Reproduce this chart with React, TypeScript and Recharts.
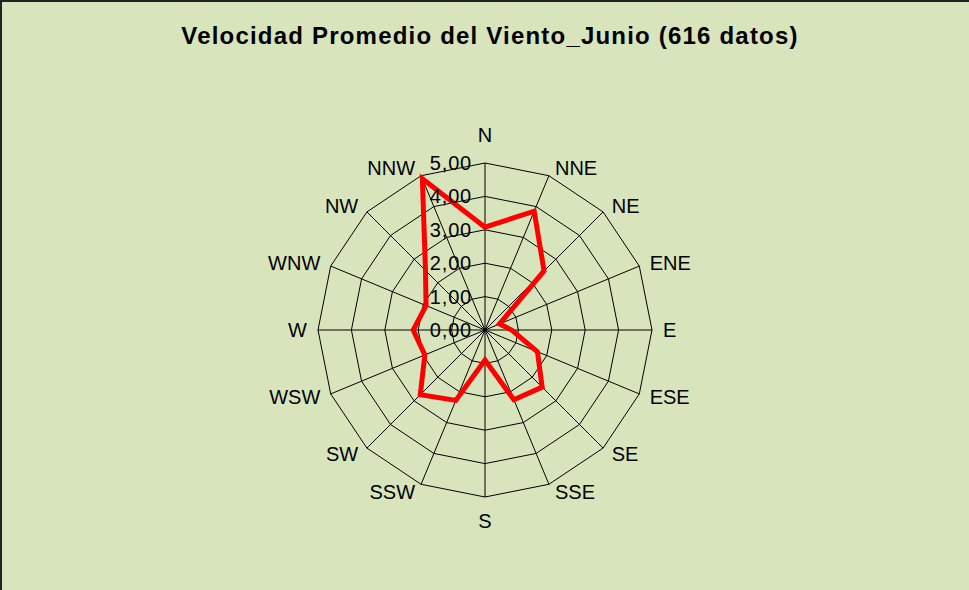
import { RadarChart, Radar, PolarGrid, PolarAngleAxis, PolarRadiusAxis } from 'recharts'

const directions = ['N', 'NNE', 'NE', 'ENE', 'E', 'ESE', 'SE', 'SSE', 'S', 'SSW', 'SW', 'WSW', 'W', 'WNW', 'NW', 'NNW']
const speeds = [3.08, 3.85, 2.5, 0.47, 0.8, 1.7, 2.42, 2.26, 0.9, 2.28, 2.74, 1.95, 2.15, 1.91, 2.52, 4.9]
const radiusTicks = [0, 1, 2, 3, 4, 5]

const chartData = directions.map((dir, i) => ({ dir, value: speeds[i] }))

const FONT = '"Liberation Sans", Arial, sans-serif'

const fmt = (v: number) => v.toFixed(2).replace('.', ',')

function AngleTick(props: any) {
  const { x, y, payload, textAnchor } = props
  let dx = 0
  let dy = 0
  if (textAnchor === 'middle') {
    dy = y < 330 ? -20 : 16
  } else {
    dx = textAnchor === 'start' ? 3 : -3
  }
  return (
    <text
      x={x + dx}
      y={y + dy}
      textAnchor={textAnchor}
      dominantBaseline="central"
      fontSize={20}
      fontFamily={FONT}
      fill="#000"
    >
      {payload.value}
    </text>
  )
}

function RadiusTick(props: any) {
  const { x, y, payload } = props
  return (
    <text
      x={x - 13}
      y={y}
      textAnchor="end"
      dominantBaseline="central"
      fontSize={20}
      letterSpacing={0.8}
      fontFamily={FONT}
      fill="#000"
    >
      {fmt(payload.value)}
    </text>
  )
}

export default function App() {
  return (
    <div
      style={{
        position: 'absolute',
        left: 0,
        top: 0,
        width: 969,
        height: 590,
        background: '#D8E4BC',
        borderTop: '2px solid #222',
        borderLeft: '2px solid #222',
        boxSizing: 'border-box',
        overflow: 'hidden',
      }}
    >
      <div
        style={{
          position: 'absolute',
          left: 0,
          top: 20,
          width: 976,
          textAlign: 'center',
          fontFamily: FONT,
          fontWeight: 'bold',
          fontSize: 24,
          letterSpacing: 1.2,
          color: '#000',
        }}
      >
        Velocidad Promedio del Viento_Junio (616 datos)
      </div>
      <div style={{ position: 'absolute', left: -2, top: -2 }}>
        <RadarChart
          width={969}
          height={590}
          data={chartData}
          cx={485}
          cy={330}
          outerRadius={167}
          margin={{ top: 0, right: 0, bottom: 0, left: 0 }}
        >
          <PolarGrid gridType="polygon" stroke="#000" strokeWidth={1} />
          <PolarAngleAxis dataKey="dir" tick={<AngleTick />} tickLine={false} axisLine={false} />
          <PolarRadiusAxis
            angle={90}
            domain={[0, 5]}
            ticks={radiusTicks}
            tick={<RadiusTick />}
            axisLine={false}
            tickLine={false}
          />
          <Radar
            dataKey="value"
            stroke="#FF0000"
            strokeWidth={5}
            fill="none"
            fillOpacity={0}
            dot={false}
            isAnimationActive={false}
          />
        </RadarChart>
      </div>
    </div>
  )
}
